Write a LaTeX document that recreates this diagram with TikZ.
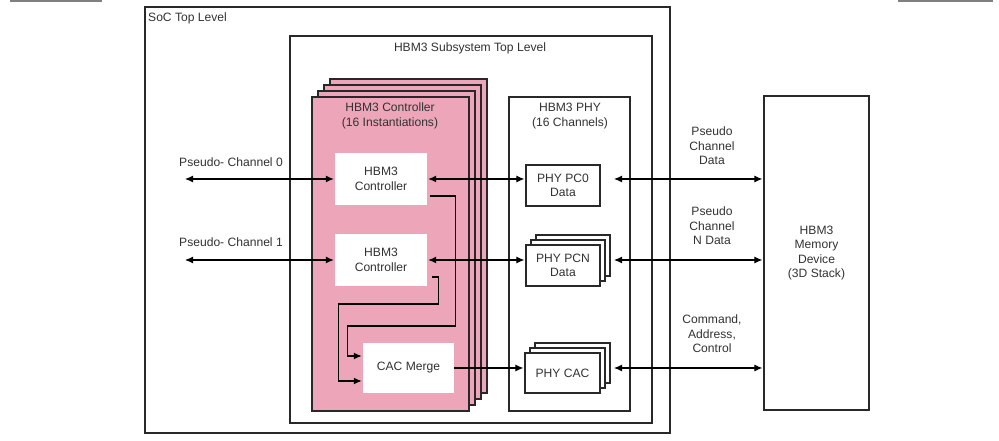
\documentclass[tikz,border=0pt]{standalone}
\usepackage{fontspec}
\setmainfont{Liberation Sans}
\usepackage{tikz}
\usetikzlibrary{calc}
\usetikzlibrary{arrows.meta}
\definecolor{MyPink}{RGB}{237,166,185}
\definecolor{MyDarkGrey}{RGB}{40,40,40}
\definecolor{MyText}{RGB}{50,50,50}
\tikzset{
  box/.style={draw=MyDarkGrey, line width=1.2pt, fill=white, inner sep=0pt, text=MyText, align=center},
  ctrllayer/.style={box, fill=MyPink, minimum width=157pt, minimum height=314pt},
  innerbox/.style={fill=white, inner sep=0pt, text=MyText, align=center},
  phybox/.style={box, minimum width=74pt, minimum height=41pt},
  txt/.style={text=MyText, align=center, inner sep=0pt},
  link/.style={draw=black, line width=1.1pt, shorten <=1pt, shorten >=1pt,
    {Latex[length=8pt,width=7pt]}-{Latex[length=8pt,width=7pt]}},
  oneway/.style={draw=black, line width=1.1pt, shorten >=1pt, -{Latex[length=8pt,width=7pt]}},
  route/.style={draw=black, line width=1.4pt, shorten >=1pt, -{Latex[length=8pt,width=7pt]}}
}

\begin{document}
\begin{tikzpicture}[x=1pt, y=1pt, font=\fontsize{12.1}{14.6}\selectfont]
        \useasboundingbox (0,0) rectangle (999,441);
        \draw [draw=gray, line width=2pt] (10,440) -- (102,440);
        \draw [draw=gray, line width=2pt] (898,440) -- (993,440);

        % frames
        \node [box, minimum width=525pt, minimum height=426pt] (soc) at (407.5,221) {};
        \node [txt, anchor=west] (soctitle) at (148,423) {SoC Top Level};
        \node [box, minimum width=362pt, minimum height=387pt] (sub) at (471,211.5) {};
        \node [txt] (subtitle) at (470,393) {HBM3 Subsystem Top Level};

        % controller stack
        \foreach \k in {3,2,1}
          \node [ctrllayer] at (390.5+6*\k, 187+6*\k) {};
        \node [ctrllayer] (ctrl) at (390.5,187) {};
        \node [txt] (ctrltitle) at (390,325) {HBM3 Controller\\(16 Instantiations)};
        \node [innerbox, minimum width=92pt, minimum height=52pt] (c1) at (381,262) {HBM3\\Controller};
        \node [innerbox, minimum width=92pt, minimum height=52pt] (c2) at (381,181) {HBM3\\Controller};
        \node [innerbox, minimum width=91pt, minimum height=50pt] (cac) at (408.5,73) {CAC Merge};

        % phy
        \node [box, minimum width=121pt, minimum height=314pt] (phy) at (569.5,187) {};
        \node [txt] (phytitle) at (570,325) {HBM3 PHY\\(16 Channels)};
        \node [phybox] (pc0) at (563,255.5) {PHY PC0\\Data};
        \foreach \k in {2,1}
          \node [phybox] at (563+5*\k, 175.5+5*\k) {};
        \node [phybox] (pcn) at (563,175.5) {PHY PCN\\Data};
        \foreach \k in {2,1}
          \node [phybox, minimum width=75pt, minimum height=40pt] at (562.5+5*\k, 68+5*\k) {};
        \node [phybox, minimum width=75pt, minimum height=40pt] (pcac) at (562.5,68) {PHY CAC};

        % memory
        \node [box, minimum width=105pt, minimum height=314pt] (mem) at (816.5,188) {HBM3\\Memory\\Device\\(3D Stack)};

        % free ends
        \coordinate (in0) at (184,262);
        \coordinate (in1) at (184,181);
        \coordinate (bus) at (613,0);

        \node [txt, anchor=west] (pch0) at (179,279) {Pseudo- Channel 0};
        \node [txt, anchor=west] (pch1) at (179,199) {Pseudo- Channel 1};
        \node [txt] (lbl0) at (712,295) {Pseudo\\Channel\\Data};
        \node [txt] (lbl1) at (712,215) {Pseudo\\Channel\\N Data};
        \node [txt] (lbl2) at (712,107) {Command,\\Address,\\Control};

        % connectors
        \draw [link] (in0) -- (c1.west);
        \draw [link] (in1) -- (c2.west);
        \draw [link] (c1.east) -- (c1.east -| pc0.west);
        \draw [link] (c2.east) -- (c2.east -| pcn.west);
        \draw [oneway] (cac.east) -- (cac.east -| pcac.west);
        \draw [link] (bus |- c1.east) -- (mem.west |- c1.east);
        \draw [link] (bus |- c2.east) -- (mem.west |- c2.east);
        \draw [link] (bus |- cac.east) -- (mem.west |- cac.east);
        \draw [route] ($(c1.south east)+(3,9)$) -- ++(25,0) -- ++(0,-130) -- ++(-108,0) |- ($(cac.west)+(0,12)$);
        \draw [route] ($(c2.south east)+(5,9)$) -- ++(6,0) -- ++(0,-27) -- ++(-100,0) |- ($(cac.west)+(0,-13)$);
      \end{tikzpicture}
\end{document}
